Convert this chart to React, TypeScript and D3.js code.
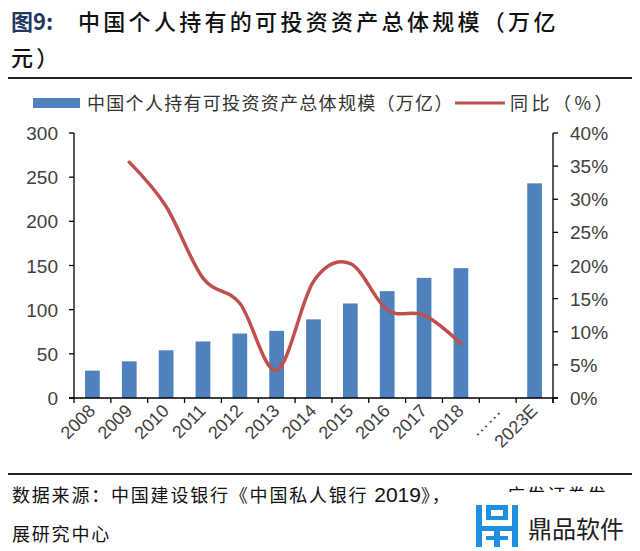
import React, { useEffect, useRef } from "react";
import * as d3 from "d3";

const categories = ["2008", "2009", "2010", "2011", "2012", "2013", "2014", "2015", "2016", "2017", "2018", "……", "2023E"];
const assetValues: (number | null)[] = [31, 41.5, 54, 64, 73, 76, 89, 107, 121, 136, 147, null, 243];
const yoyValues: (number | null)[] = [null, 0.356, 0.289, 0.181, 0.143, 0.042, 0.176, 0.203, 0.133, 0.125, 0.082, null, null];
const leftTicks = [0, 50, 100, 150, 200, 250, 300];
const rightTicks = [0, 0.05, 0.1, 0.15, 0.2, 0.25, 0.3, 0.35, 0.4];
const barLegend = "中国个人持有可投资资产总体规模（万亿）";
const lineLegend = "同比（%）";

const W = 640, H = 551;
const X0 = 74, X1 = 553, Y0 = 398, Y1 = 133;
const BLUE = "#4F81BD", RED = "#C0504D";
const TICK_FONT = "'Liberation Sans', Arial, sans-serif";
const CJK = "'Noto Sans CJK SC', sans-serif";

export default function App() {
  const ref = useRef<SVGSVGElement>(null);
  useEffect(() => {
    const svg = d3.select(ref.current);
    svg.selectAll("*").remove();

    const x = d3.scaleBand<string>().domain(categories).range([X0, X1]).paddingInner(0.6).paddingOuter(0.3);
    const step = x.step();
    const yL = d3.scaleLinear().domain([0, 300]).range([Y0, Y1]);
    const yR = d3.scaleLinear().domain([0, 0.4]).range([Y0, Y1]);

    svg.append("rect").attr("width", W).attr("height", H).attr("fill", "#fff");

    // Title
    svg.append("text").attr("x", 11).attr("y", 30).attr("font-family", CJK).attr("font-size", 22)
      .attr("fill", "#1F3864").attr("font-weight", "bold").text("图9:");
    svg.append("text").attr("x", 78).attr("y", 30).attr("font-family", CJK).attr("font-size", 22).attr("letter-spacing", 3.3)
      .attr("fill", "#111").attr("font-weight", 500).text("中国个人持有的可投资资产总体规模（万亿");
    svg.append("text").attr("x", 11).attr("y", 66).attr("font-family", CJK).attr("font-size", 22).attr("letter-spacing", 3.3)
      .attr("font-weight", 500).attr("fill", "#111").text("元）");
    svg.append("line").attr("x1", 8).attr("x2", 632).attr("y1", 78).attr("y2", 78).attr("stroke", "#222").attr("stroke-width", 2);

    // Legend
    svg.append("rect").attr("x", 33).attr("y", 98).attr("width", 47).attr("height", 10).attr("fill", BLUE);
    svg.append("text").attr("x", 87).attr("y", 110).attr("font-family", CJK).attr("font-size", 18).attr("letter-spacing", 1.3)
      .attr("fill", "#333").text(barLegend);
    svg.append("line").attr("x1", 455).attr("x2", 505).attr("y1", 103).attr("y2", 103).attr("stroke", RED).attr("stroke-width", 3);
    svg.append("text").attr("x", 510).attr("y", 110).attr("font-family", CJK).attr("font-size", 18).attr("letter-spacing", 3.5)
      .attr("fill", "#333").text(lineLegend);

    // Bars
    categories.forEach((c, i) => {
      const v = assetValues[i];
      if (v == null) return;
      svg.append("rect").attr("x", x(c)!).attr("width", x.bandwidth()).attr("y", yL(v)).attr("height", yL(0) - yL(v)).attr("fill", BLUE);
    });

    // Line
    const pts = categories.map((c, i) => ({ c, v: yoyValues[i] })).filter(d => d.v != null) as { c: string; v: number }[];
    const line = d3.line<{ c: string; v: number }>()
      .x(d => x(d.c)! + x.bandwidth() / 2)
      .y(d => yR(d.v))
      .curve(d3.curveCardinal.tension(0));
    svg.append("path").attr("d", line(pts)!).attr("fill", "none").attr("stroke", RED).attr("stroke-width", 3.5).attr("stroke-linecap", "round");

    // Left axis
    svg.append("line").attr("x1", X0).attr("x2", X0).attr("y1", Y1).attr("y2", Y0).attr("stroke", "#000").attr("stroke-width", 1.3);
    leftTicks.forEach(t => {
      svg.append("line").attr("x1", X0 - 5).attr("x2", X0).attr("y1", yL(t)).attr("y2", yL(t)).attr("stroke", "#000").attr("stroke-width", 1.3);
      svg.append("text").attr("x", 58).attr("y", yL(t) + 7).attr("text-anchor", "end").attr("font-family", TICK_FONT).attr("font-size", 19).attr("fill", "#404040").text(String(t));
    });

    // Right axis
    svg.append("line").attr("x1", X1).attr("x2", X1).attr("y1", Y1).attr("y2", Y0 + 5).attr("stroke", "#000").attr("stroke-width", 1.3);
    rightTicks.forEach(t => {
      svg.append("line").attr("x1", X1).attr("x2", X1 + 5).attr("y1", yR(t)).attr("y2", yR(t)).attr("stroke", "#000").attr("stroke-width", 1.3);
      svg.append("text").attr("x", 570).attr("y", yR(t) + 7).attr("font-family", TICK_FONT).attr("font-size", 19).attr("fill", "#404040").text(`${Math.round(t * 100)}%`);
    });

    // Bottom axis
    svg.append("line").attr("x1", X0 - 5).attr("x2", X1 + 5).attr("y1", Y0).attr("y2", Y0).attr("stroke", "#000").attr("stroke-width", 1.3);
    for (let i = 0; i <= categories.length; i++) {
      const tx = X0 + i * step;
      svg.append("line").attr("x1", tx).attr("x2", tx).attr("y1", Y0).attr("y2", Y0 + 5).attr("stroke", "#000").attr("stroke-width", 1.3);
    }
    categories.forEach(c => {
      const cx = x(c)! + x.bandwidth() / 2 + 4;
      svg.append("text").attr("transform", `translate(${cx},${Y0 + 14}) rotate(-45)`).attr("text-anchor", "end")
        .attr("font-family", TICK_FONT).attr("font-size", 18).attr("fill", "#404040").text(c);
    });

    // Footer
    svg.append("line").attr("x1", 8).attr("x2", 632).attr("y1", 474).attr("y2", 474).attr("stroke", "#222").attr("stroke-width", 2);
    const f1 = svg.append("text").attr("x", 12).attr("y", 502).attr("font-family", CJK).attr("font-size", 18).attr("letter-spacing", 1.8).attr("fill", "#111");
    f1.append("tspan").text("数据来源：中国建设银行《中国私人银行 ");
    f1.append("tspan").attr("font-family", TICK_FONT).attr("font-size", 21).attr("letter-spacing", 0).text("2019");
    f1.append("tspan").text("》，");
    svg.append("text").attr("x", 507).attr("y", 502).attr("font-family", CJK).attr("font-size", 18).attr("letter-spacing", 2.2).attr("fill", "#111")
      .text("广发证券发");
    svg.append("text").attr("x", 12).attr("y", 541).attr("font-family", CJK).attr("font-size", 18).attr("letter-spacing", 1.8).attr("fill", "#111").text("展研究中心");

    // Watermark
    const wm = svg.append("g");
    wm.append("rect").attr("x", 470).attr("y", 492).attr("width", 162).attr("height", 57).attr("fill", "#fff");
    const ic = wm.append("g").attr("fill", "#1E8FE1");
    ic.append("rect").attr("x", 476).attr("y", 505).attr("width", 6).attr("height", 42);
    ic.append("rect").attr("x", 512).attr("y", 505).attr("width", 6).attr("height", 42);
    ic.append("rect").attr("x", 486).attr("y", 505).attr("width", 22).attr("height", 5);
    ic.append("rect").attr("x", 486).attr("y", 505).attr("width", 5).attr("height", 15);
    ic.append("rect").attr("x", 503).attr("y", 505).attr("width", 5).attr("height", 15);
    ic.append("rect").attr("x", 486).attr("y", 516).attr("width", 22).attr("height", 4);
    ic.append("rect").attr("x", 476).attr("y", 526).attr("width", 42).attr("height", 5);
    ic.append("rect").attr("x", 486).attr("y", 536).attr("width", 22).attr("height", 4);
    ic.append("rect").attr("x", 494).attr("y", 531).attr("width", 6).attr("height", 16);
    wm.append("text").attr("x", 528).attr("y", 538).attr("font-family", CJK).attr("font-size", 24).attr("fill", "#222").text("鼎品软件");
  }, []);
  return <svg ref={ref} width={W} height={H} style={{ position: "absolute", left: 0, top: 0 }} />;
}
